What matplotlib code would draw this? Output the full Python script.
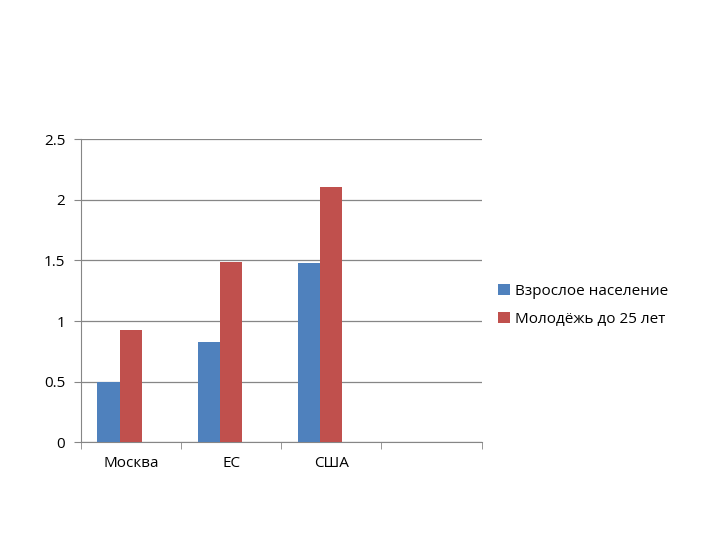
import matplotlib
matplotlib.use("Agg")
import matplotlib.pyplot as plt
import numpy as np

categories = ["Москва", "ЕС", "США", ""]
adults = [0.5, 0.83, 1.48, 0]
youth = [0.93, 1.49, 2.11, 0]
series_names = ["Взрослое население", "Молодёжь до 25 лет"]
colors = ["#4F81BD", "#C0504D"]

plt.rcParams['font.family'] = ['Open Sans', 'DejaVu Sans']

fig = plt.figure(figsize=(7.2, 5.4), dpi=100)
ax = fig.add_axes([0.112, 0.181, 0.557, 0.561])

x = np.arange(len(categories))
w = 1 / 4.5  # excel-like: 3 series slots, gap width 150%
ax.bar(x - w, adults, width=w, color=colors[0], label=series_names[0], zorder=3)
ax.bar(x, youth, width=w, color=colors[1], label=series_names[1], zorder=3)

ax.set_xlim(-0.5, len(categories) - 0.5)
ax.set_ylim(0, 2.5)
ax.set_yticks([0, 0.5, 1, 1.5, 2, 2.5])
ax.set_yticklabels(["0", "0.5", "1", "1.5", "2", "2.5"], fontsize=11)
ax.yaxis.grid(True, color="#868686", linewidth=0.9, zorder=0)

ax.set_xticks(x)
ax.set_xticklabels(categories, fontsize=11)
ax.tick_params(axis="x", which="major", length=0, pad=10)
ax.set_xticks(np.arange(-0.5, len(categories), 1), minor=True)
ax.tick_params(axis="x", which="minor", length=5, color="#868686")
ax.tick_params(axis="y", length=5, color="#868686", pad=6)

for s in ["top", "right"]:
    ax.spines[s].set_visible(False)
for s in ["left", "bottom"]:
    ax.spines[s].set_color("#868686")

fig.legend(loc="upper left", bbox_to_anchor=(0.692, 0.474),
           bbox_transform=fig.transFigure, frameon=False, borderpad=0,
           borderaxespad=0, fontsize=11, handlelength=0.75, handleheight=0.75,
           handletextpad=0.35, labelspacing=0.85)

fig.savefig("out.png", dpi=100)
